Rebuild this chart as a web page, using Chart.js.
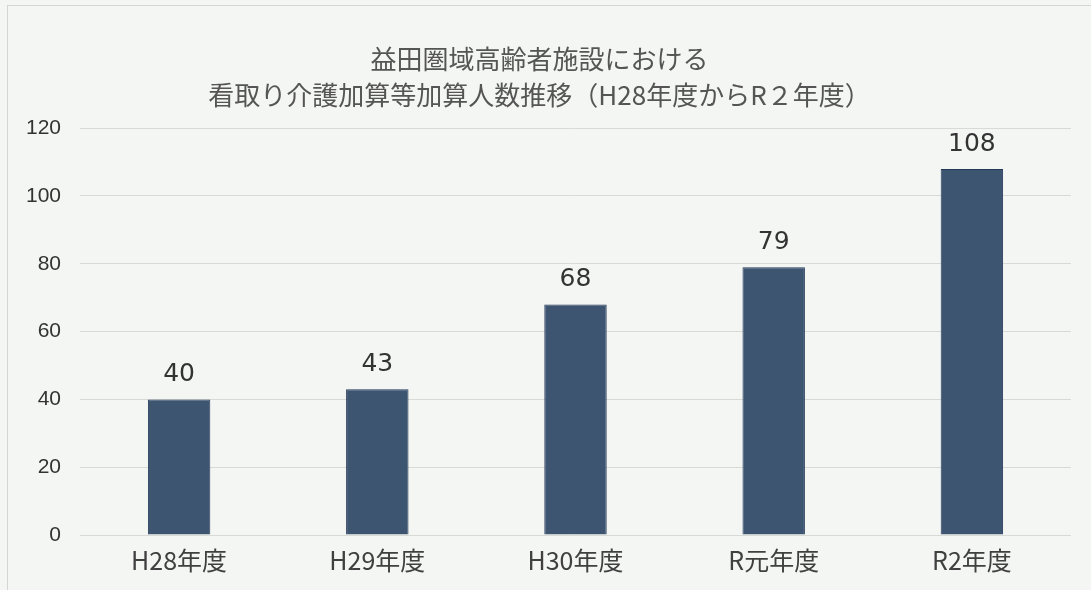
<!DOCTYPE html>
<html>
<head>
<meta charset="utf-8">
<script src="https://cdn.jsdelivr.net/npm/chart.js@4/dist/chart.umd.min.js"></script>
<style>
html,body{margin:0;padding:0;background:#f4f6f3;}
#wrap{width:1091px;height:590px;position:relative;}
</style>
</head>
<body>
<div id="wrap"><canvas id="c" width="1091" height="590"></canvas></div>
<script>
const categories = ["H28年度", "H29年度", "H30年度", "R元年度", "R2年度"];
const values = [40, 43, 68, 79, 108];
const titleLines = ["益田圏域高齢者施設における", "看取り介護加算等加算人数推移（H28年度からR２年度）"];
const yTicks = [0, 20, 40, 60, 80, 100, 120];

const valueLabels = {
  id: 'valueLabels',
  afterDatasetsDraw(chart) {
    const ctx = chart.ctx;
    const meta = chart.getDatasetMeta(0);
    ctx.save();
    ctx.fillStyle = '#333333';
    ctx.font = '25px "DejaVu Sans", sans-serif';
    ctx.textAlign = 'center';
    ctx.textBaseline = 'alphabetic';
    meta.data.forEach((bar, i) => {
      ctx.fillText(String(values[i]), bar.x, bar.y - 18);
    });
    ctx.restore();
  }
};
const frame = {
  id: 'frame',
  beforeDraw(chart) {
    const ctx = chart.ctx;
    ctx.save();
    ctx.strokeStyle = '#d4d6d2';
    ctx.lineWidth = 1;
    ctx.strokeRect(7.5, 5.5, 1200, 700);
    ctx.restore();
  }
};

new Chart(document.getElementById('c'), {
  type: 'bar',
  data: {
    labels: categories,
    datasets: [{
      data: values,
      backgroundColor: '#3e5572',
      borderColor: '#24395a',
      borderWidth: 1,
      barPercentage: 0.63,
      categoryPercentage: 0.5
    }]
  },
  options: {
    responsive: false,
    animation: false,
    layout: { padding: { left: 8, right: 20, top: 0, bottom: 13 } },
    plugins: {
      legend: { display: false },
      tooltip: { enabled: false },
      title: {
        display: true,
        text: titleLines,
        color: '#555555',
        font: { family: '"Noto Sans CJK JP", sans-serif', size: 26, weight: 'normal', lineHeight: 1.35 },
        padding: { top: 42, bottom: 16 }
      }
    },
    scales: {
      x: {
        grid: { display: false },
        border: { display: false },
        ticks: {
          color: '#404040',
          font: { family: '"Noto Sans CJK JP", sans-serif', size: 25, lineHeight: 1.2 },
          padding: 2
        }
      },
      y: {
        min: 0,
        max: 120,
        afterBuildTicks(scale) { scale.ticks = yTicks.map(v => ({ value: v })); },
        afterFit(scale) { scale.width = 72; },
        grid: { color: '#d8dad6', lineWidth: 1, drawTicks: false },
        border: { display: false },
        ticks: {
          color: '#333333',
          font: { family: '"Liberation Sans", sans-serif', size: 21 },
          padding: 19
        }
      }
    }
  },
  plugins: [frame, valueLabels]
});
</script>
</body>
</html>
